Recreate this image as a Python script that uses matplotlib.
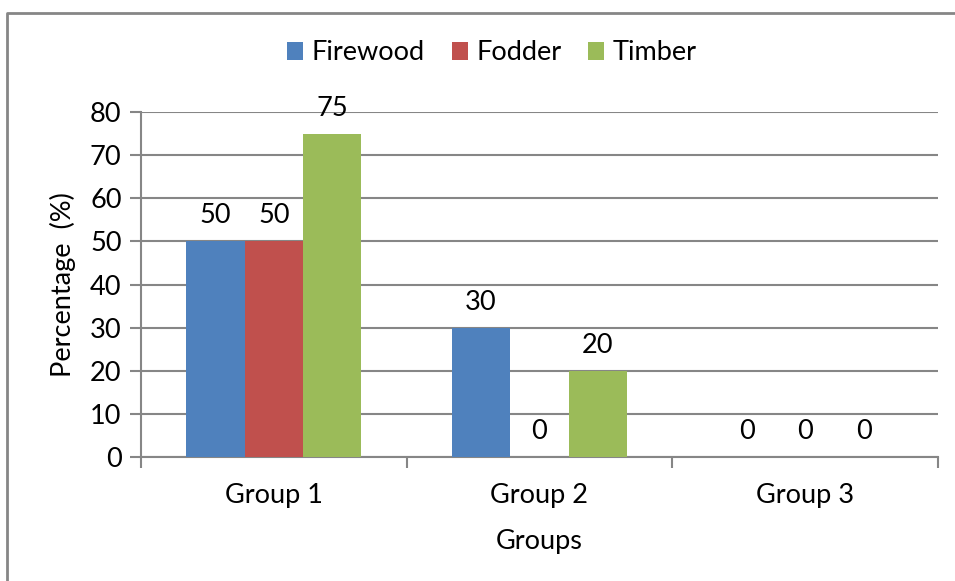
import matplotlib.pyplot as plt
import numpy as np
from matplotlib.lines import Line2D

plt.rcParams['font.family'] = ['Lato', 'DejaVu Sans']

groups = ['Group 1', 'Group 2', 'Group 3']
firewood = [50, 30, 0]
fodder = [50, 0, 0]
timber = [75, 20, 0]

series = [('Firewood', firewood, '#4F81BD'),
          ('Fodder', fodder, '#C0504D'),
          ('Timber', timber, '#9BBB59')]

fs = 19.5

fig = plt.figure(figsize=(9.55, 5.81), dpi=100)
ax = fig.add_axes([0.1476, 0.2134, 0.8346, 0.5938])

# outer frame of the chart area: only the left and top edges show
fx, fy = 7 / 955, 1 - 13 / 581
fig.add_artist(Line2D([fx, fx, 1.0], [0.0, fy, fy], transform=fig.transFigure,
                      color='#868686', linewidth=2))

x = np.arange(len(groups))
w = 0.22
for i, (name, vals, col) in enumerate(series):
    pos = x + (i - 1) * w
    ax.bar(pos, vals, width=w, color=col, label=name, zorder=3)
    for p, v in zip(pos, vals):
        ax.text(p, v + 3.0, str(v), ha='center', va='bottom', fontsize=fs)

ax.set_xlim(-0.5, 2.5)
ax.set_ylim(0, 80)
ax.set_yticks(range(0, 81, 10))
ax.yaxis.grid(True, color='#868686', linewidth=1.5, zorder=0)
ax.tick_params(axis='y', labelsize=fs, length=8, width=1.5, color='#868686', pad=6)

ax.set_xticks(x)
ax.set_xticklabels(groups)
ax.set_xticks([-0.5, 0.5, 1.5, 2.5], minor=True)
ax.tick_params(axis='x', which='major', length=0, labelsize=fs, pad=19)
ax.tick_params(axis='x', which='minor', length=8, width=1.5, color='#868686')

for s in ['top', 'right']:
    ax.spines[s].set_visible(False)
for s in ['left', 'bottom']:
    ax.spines[s].set_color('#868686')
    ax.spines[s].set_linewidth(1.5)

ax.set_ylabel('Percentage  (%)', fontsize=fs, labelpad=10)
ax.set_xlabel('Groups', fontsize=fs, labelpad=15)

fig.legend(loc='center', bbox_to_anchor=(0.515, 1 - 53 / 581), ncol=3,
           frameon=False, fontsize=fs, handlelength=0.6, handleheight=0.6,
           handletextpad=0.3, columnspacing=1.0)

fig.savefig('out.png', dpi=100)
